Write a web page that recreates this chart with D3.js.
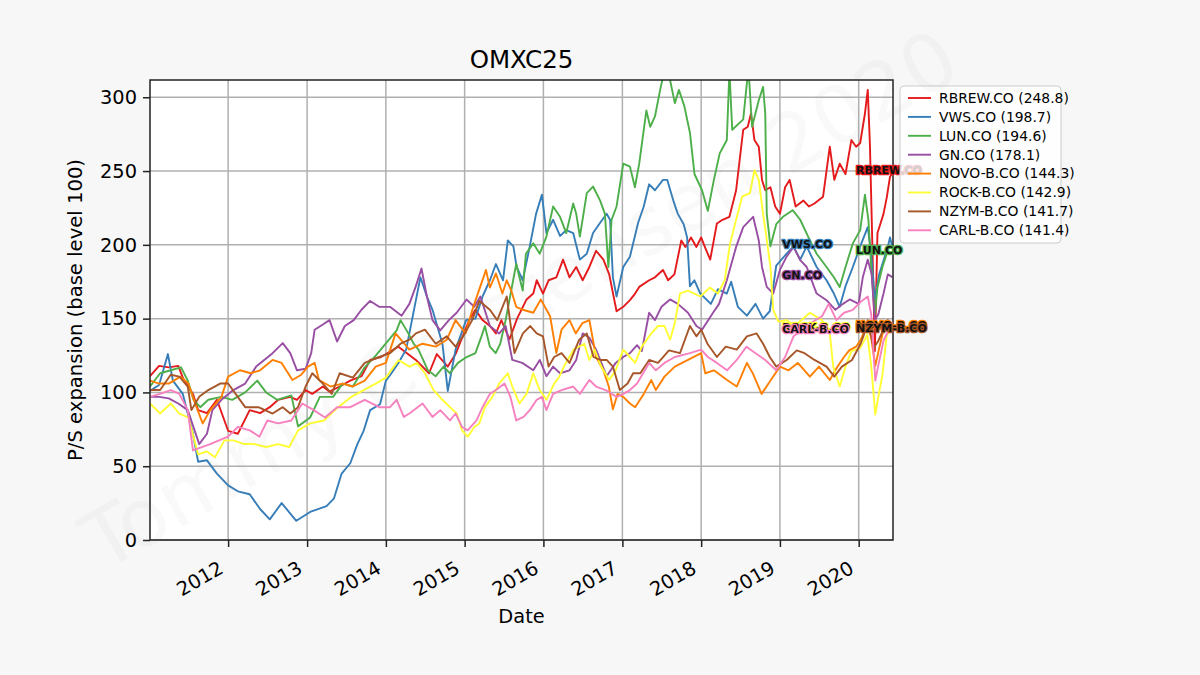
<!DOCTYPE html>
<html>
<head>
<meta charset="utf-8">
<script src="https://cdn.jsdelivr.net/npm/d3@7"></script>
<style>
  body { margin: 0; background: #f7f7f7; }
  svg { display: block; font-family: "DejaVu Sans", sans-serif; }
</style>
</head>
<body>
<div id="chart"></div>
<script>
// series names, in legend order
const names = ["RBREW.CO", "VWS.CO", "LUN.CO", "GN.CO", "NOVO-B.CO", "ROCK-B.CO", "NZYM-B.CO", "CARL-B.CO"];
const colors = ["#e41a1c", "#377eb8", "#4daf4a", "#984ea3", "#ff7f00", "#ffff33", "#a65628", "#f781bf"];
const yTicks = [0, 50, 100, 150, 200, 250, 300];
const xTicks = ["2012", "2013", "2014", "2015", "2016", "2017", "2018", "2019", "2020"];

const rbrew = [["2011-01-04",111],["2011-02-15",118],["2011-04-01",117],["2011-05-15",118],["2011-06-05",110],["2011-07-22",99],["2011-08-15",88],["2011-09-25",86],["2011-11-10",95],["2012-01-01",74],["2012-02-15",72],["2012-04-10",88],["2012-05-28",86],["2012-07-12",90],["2012-08-20",95],["2012-10-15",97],["2012-11-15",95],["2012-12-25",101.6],["2013-01-25",99],["2013-03-15",104],["2013-04-15",100.5],["2013-06-01",104],["2013-07-20",108],["2013-09-10",111],["2013-10-20",122],["2013-12-10",124],["2014-02-28",131],["2014-05-20",122],["2014-07-20",113],["2014-08-25",126],["2014-10-15",117.5],["2014-11-20",126],["2015-01-22",149],["2015-02-20",156],["2015-03-25",149],["2015-04-28",145],["2015-05-26",140],["2015-06-20",149],["2015-07-28",136],["2015-09-01",150],["2015-10-15",163],["2015-11-15",167],["2015-12-01",176],["2015-12-30",167],["2016-01-25",176],["2016-03-01",178],["2016-04-01",190],["2016-05-01",178],["2016-06-01",185],["2016-07-01",176],["2016-08-01",185],["2016-09-01",196],["2016-10-05",190],["2016-11-01",180],["2016-12-05",155],["2017-01-05",158],["2017-02-05",162.5],["2017-03-01",167],["2017-03-20",171.5],["2017-05-05",176],["2017-06-01",178],["2017-07-08",183],["2017-08-01",176],["2017-08-30",180],["2017-10-01",203],["2017-10-20",198.6],["2017-11-15",205],["2017-12-10",198.6],["2018-01-01",205],["2018-01-20",198],["2018-02-12",190],["2018-03-15",214.5],["2018-04-10",217],["2018-05-12",219],["2018-06-12",237],["2018-07-15",278],["2018-08-05",280],["2018-08-20",289],["2018-09-05",271],["2018-09-25",266.5],["2018-10-10",244],["2018-10-25",237],["2018-11-18",239],["2018-12-10",226],["2019-01-01",221],["2019-01-25",239],["2019-02-15",244],["2019-03-15",226],["2019-04-20",230],["2019-05-15",226],["2019-06-10",228],["2019-07-20",232.6],["2019-08-20",266.5],["2019-09-10",244],["2019-10-05",255],["2019-11-01",248],["2019-11-28",271],["2019-12-20",266.5],["2020-01-08",269],["2020-01-30",289],["2020-02-12",305],["2020-02-22",268],["2020-03-01",220],["2020-03-16",128],["2020-03-28",208],["2020-04-10",214],["2020-04-25",221],["2020-05-10",232],["2020-05-25",246],["2020-06-05",248.8]];

const vws = [["2011-01-04",101],["2011-02-15",105],["2011-03-28",126],["2011-04-20",108],["2011-06-05",99],["2011-07-22",72],["2011-08-15",53],["2011-09-25",54],["2011-11-10",45],["2012-01-01",37],["2012-02-15",33],["2012-04-10",31],["2012-05-28",21],["2012-07-12",14],["2012-09-05",25],["2012-11-12",13],["2013-01-15",19],["2013-04-01",23],["2013-05-05",28],["2013-06-10",45],["2013-07-20",52],["2013-08-22",65],["2013-09-20",74],["2013-10-20",88],["2013-12-05",92],["2014-01-01",108],["2014-01-22",112],["2014-02-28",120],["2014-04-05",129],["2014-06-10",178],["2014-07-10",165],["2014-08-05",156],["2014-09-20",133],["2014-10-15",101],["2014-11-20",129],["2015-01-08",149],["2015-02-20",150],["2015-03-25",165],["2015-04-28",176],["2015-05-26",187],["2015-06-28",176],["2015-07-20",203],["2015-08-15",199],["2015-08-30",185],["2015-09-27",176],["2015-10-30",199],["2015-11-28",221],["2015-12-25",234],["2016-01-15",208],["2016-02-15",217],["2016-03-18",206],["2016-04-16",210],["2016-05-18",208],["2016-06-18",190],["2016-07-20",194],["2016-08-18",208],["2016-09-20",215],["2016-10-20",221],["2016-11-05",217],["2016-11-18",178],["2016-12-05",165],["2017-01-05",185],["2017-02-05",192],["2017-03-15",215],["2017-04-10",226],["2017-05-05",241],["2017-06-01",237],["2017-07-08",244],["2017-07-28",244],["2017-08-25",230],["2017-09-15",221],["2017-10-12",214],["2017-10-28",205],["2017-11-10",172],["2017-12-01",176],["2017-12-28",167],["2018-02-15",160],["2018-03-20",170],["2018-04-30",167],["2018-05-20",175],["2018-06-20",158],["2018-08-01",152],["2018-09-10",160],["2018-10-15",150],["2018-11-15",155],["2018-12-15",186],["2019-02-01",194],["2019-03-05",199],["2019-04-05",190],["2019-05-05",199],["2019-06-20",185],["2019-08-05",176],["2019-09-08",167],["2019-10-05",158],["2019-11-01",172],["2019-12-05",185],["2020-01-08",199],["2020-02-12",212],["2020-02-28",194],["2020-03-16",163],["2020-04-05",180],["2020-05-15",198.6],["2020-05-25",205],["2020-06-05",198.7]];

const lun = [["2011-01-04",104],["2011-02-20",113],["2011-04-10",115],["2011-05-28",117],["2011-06-28",108],["2011-07-25",95],["2011-08-25",90],["2011-10-01",95],["2011-12-01",97],["2012-01-20",95],["2012-03-20",100],["2012-05-15",108],["2012-06-25",100],["2012-08-15",95],["2012-10-20",98],["2012-11-20",77],["2013-01-15",83],["2013-03-01",97],["2013-05-01",97],["2013-06-15",106],["2013-08-01",104],["2013-09-25",117],["2013-11-15",125],["2014-02-20",142],["2014-03-10",149],["2014-04-15",140],["2014-05-10",133],["2014-06-01",129],["2014-07-15",115],["2014-08-20",111],["2014-09-25",117.5],["2014-10-25",113],["2014-12-01",120],["2015-01-10",124],["2015-02-20",126.6],["2015-03-20",138],["2015-04-05",145],["2015-04-28",131],["2015-05-25",126.6],["2015-06-15",133],["2015-07-10",149],["2015-08-28",187],["2015-09-27",169],["2015-10-12",194],["2015-11-15",201],["2015-12-15",194],["2016-01-15",205.6],["2016-02-15",226],["2016-03-18",219],["2016-04-16",208],["2016-05-18",228],["2016-06-01",221],["2016-06-18",205.6],["2016-07-20",235],["2016-08-18",239.5],["2016-09-20",230],["2016-10-12",221],["2016-10-28",185],["2016-11-12",217],["2016-12-05",226],["2017-01-05",255],["2017-02-05",253],["2017-02-28",239],["2017-03-20",255],["2017-04-22",291],["2017-05-10",280],["2017-06-01",287],["2017-06-25",305],["2017-07-10",315],["2017-08-01",318],["2017-09-01",296],["2017-09-20",305],["2017-10-15",294],["2017-11-10",276],["2017-12-01",248],["2018-01-05",237],["2018-02-01",223],["2018-03-01",244],["2018-03-28",262],["2018-04-30",271],["2018-05-12",318],["2018-05-25",278],["2018-07-15",285],["2018-08-08",320],["2018-08-25",280],["2018-09-25",298],["2018-10-15",307],["2018-10-25",289],["2018-11-01",221],["2018-11-18",199],["2018-12-15",214],["2019-01-15",219],["2019-03-01",223.5],["2019-04-05",217],["2019-05-20",203],["2019-06-20",194],["2019-08-05",185],["2019-09-08",178],["2019-10-05",171.5],["2019-11-01",185],["2019-12-05",201],["2020-01-08",210],["2020-01-30",234],["2020-02-15",217],["2020-02-28",185],["2020-03-16",153],["2020-03-28",171],["2020-04-20",185],["2020-05-10",194],["2020-06-05",194.6]];

const gn = [["2011-01-04",97],["2011-02-15",97],["2011-04-01",96],["2011-05-15",92.5],["2011-06-28",88],["2011-08-20",65],["2011-09-25",72],["2011-10-20",88],["2011-12-01",95],["2012-01-25",101.6],["2012-03-20",106],["2012-05-10",117.5],["2012-07-25",126.6],["2012-09-10",133.4],["2012-10-15",126.6],["2012-11-15",115],["2012-12-25",116],["2013-01-20",126.6],["2013-02-05",142.5],["2013-03-15",146],["2013-04-15",149],["2013-05-20",134.5],["2013-06-25",145],["2013-08-05",149],["2013-09-10",156],["2013-10-20",162],["2013-12-01",158],["2014-01-20",158],["2014-03-15",152],["2014-04-20",160],["2014-05-20",172],["2014-06-15",184],["2014-07-10",165],["2014-08-05",149],["2014-09-10",142],["2014-10-20",149],["2014-11-25",154],["2015-01-10",163],["2015-02-15",158],["2015-03-15",165],["2015-04-28",145],["2015-06-10",140],["2015-07-10",145],["2015-08-10",122],["2015-09-25",120],["2015-11-15",115],["2015-12-15",122],["2016-01-15",111],["2016-02-15",117.5],["2016-03-18",113],["2016-05-01",115],["2016-06-01",122],["2016-07-01",140],["2016-08-01",137],["2016-09-01",129],["2016-10-20",111],["2016-12-01",120],["2017-01-05",124],["2017-02-05",126.6],["2017-03-10",132],["2017-04-01",128],["2017-05-05",154],["2017-06-01",149],["2017-07-01",158],["2017-08-10",163],["2017-09-15",160],["2017-11-01",154],["2017-12-10",145],["2018-01-05",142.5],["2018-02-25",154],["2018-03-25",160],["2018-04-30",176],["2018-06-12",198.6],["2018-07-15",212],["2018-08-30",219],["2018-09-25",203],["2018-10-10",185],["2018-11-01",171.5],["2018-12-01",167],["2019-01-01",183],["2019-02-01",192],["2019-03-05",198.6],["2019-04-05",189.6],["2019-05-05",185],["2019-06-20",167],["2019-08-05",162.5],["2019-09-15",156],["2019-10-20",160],["2019-11-20",163],["2020-01-01",160],["2020-01-20",178],["2020-02-12",190],["2020-03-01",180],["2020-03-16",149],["2020-04-01",153],["2020-04-25",167],["2020-05-15",180],["2020-06-05",178.1]];

const novo = [["2011-01-04",108],["2011-02-15",106],["2011-04-01",106],["2011-05-25",110.7],["2011-07-01",106],["2011-08-01",92.5],["2011-09-05",79],["2011-10-10",88],["2011-12-01",97],["2012-01-01",110.7],["2012-02-25",115],["2012-04-15",113],["2012-05-28",115],["2012-07-25",122],["2012-09-05",120],["2012-10-25",108.4],["2012-12-05",112],["2013-01-05",117.5],["2013-02-05",120],["2013-02-25",108.4],["2013-04-20",104],["2013-06-15",106],["2013-08-01",104],["2013-09-25",108],["2013-11-15",117.5],["2014-01-01",120],["2014-02-15",140],["2014-04-20",129],["2014-06-20",133],["2014-08-20",131],["2014-10-10",135.7],["2014-11-20",149],["2015-01-05",140],["2015-02-10",158],["2015-04-10",183],["2015-04-28",171],["2015-05-26",180.6],["2015-06-25",167],["2015-07-15",176],["2015-08-05",169],["2015-08-28",158],["2015-09-28",156],["2015-11-15",154],["2015-12-20",163],["2016-02-01",151.6],["2016-03-01",126.6],["2016-03-25",142.5],["2016-05-01",149],["2016-05-30",140],["2016-06-30",147],["2016-08-01",149],["2016-09-01",124],["2016-10-05",115],["2016-10-30",104],["2016-11-18",88.6],["2016-12-10",99],["2017-01-05",97],["2017-02-05",92.5],["2017-03-01",90],["2017-04-10",99],["2017-05-15",108.4],["2017-06-05",101.6],["2017-07-15",110.7],["2017-09-01",117.5],["2017-11-01",122],["2018-01-01",126.6],["2018-01-20",113],["2018-03-01",115],["2018-05-01",108.4],["2018-06-15",104],["2018-08-01",120],["2018-08-28",113],["2018-10-08",99],["2018-11-20",108.4],["2019-01-01",117.5],["2019-02-10",115],["2019-03-25",120],["2019-05-20",110.7],["2019-07-01",117.5],["2019-08-20",108.4],["2019-09-25",117.5],["2019-10-25",124],["2019-11-18",128.5],["2019-12-20",131],["2020-01-08",135],["2020-02-10",146],["2020-02-28",137],["2020-03-18",118],["2020-04-05",130],["2020-05-01",146],["2020-06-05",144.3]];

const rock = [["2011-01-04",92.5],["2011-02-20",85.7],["2011-04-10",92.5],["2011-05-20",85.7],["2011-07-01",83],["2011-08-15",58],["2011-09-25",60],["2011-11-01",56],["2011-12-15",67.5],["2012-01-25",67.5],["2012-03-15",65],["2012-05-01",65],["2012-06-25",63],["2012-08-20",65],["2012-10-10",63],["2012-11-20",74.3],["2013-01-15",79],["2013-03-20",81],["2013-05-25",90],["2013-07-25",97],["2013-09-20",101.6],["2013-11-15",106],["2014-01-01",110],["2014-03-01",122],["2014-04-20",117.5],["2014-05-25",120],["2014-07-01",113],["2014-08-10",101.6],["2014-09-20",95],["2014-10-25",90],["2014-11-25",85.7],["2014-12-20",74.3],["2015-01-15",70],["2015-02-15",76.6],["2015-03-10",79],["2015-04-05",90],["2015-05-10",97],["2015-06-10",106],["2015-07-20",113],["2015-08-10",104],["2015-09-12",92.5],["2015-10-15",99],["2015-11-15",113],["2015-12-15",101.6],["2016-01-15",95],["2016-02-20",106],["2016-03-15",110.7],["2016-04-05",117.5],["2016-05-20",129],["2016-07-08",133],["2016-08-01",122],["2016-08-25",129],["2016-09-25",117.5],["2016-11-01",108.4],["2016-12-01",115],["2017-01-05",129],["2017-02-05",124],["2017-03-01",120],["2017-04-01",131],["2017-05-15",140],["2017-06-15",145],["2017-07-15",145],["2017-08-10",135.7],["2017-09-01",147],["2017-09-25",167],["2017-11-01",169],["2017-12-28",165],["2018-02-10",171],["2018-03-20",167],["2018-04-20",176],["2018-05-15",201],["2018-06-12",217],["2018-07-10",232.6],["2018-08-15",235],["2018-09-05",250.6],["2018-09-25",244],["2018-10-15",221],["2018-10-28",208],["2018-11-18",185],["2018-12-01",156],["2018-12-25",148],["2019-02-01",149],["2019-03-10",145],["2019-05-20",154],["2019-07-15",149],["2019-08-20",140],["2019-09-05",117.5],["2019-10-05",104],["2019-11-01",117.5],["2019-11-28",128],["2020-01-08",130],["2020-02-10",139],["2020-02-28",118],["2020-03-18",85],["2020-04-01",97],["2020-04-20",112],["2020-05-10",139],["2020-06-05",142.9]];

const nzym = [["2011-01-04",101.6],["2011-02-20",101.6],["2011-04-10",112],["2011-05-20",110.7],["2011-06-28",104],["2011-07-15",88],["2011-08-20",97],["2011-10-01",101.6],["2011-11-25",106],["2012-01-01",106],["2012-03-20",90],["2012-05-20",90],["2012-07-25",85.7],["2012-09-10",90],["2012-10-15",85.7],["2012-11-20",90],["2012-12-25",104],["2013-01-25",113],["2013-03-15",106],["2013-04-25",99],["2013-06-01",113],["2013-08-01",110],["2013-09-25",120],["2013-12-01",124],["2014-01-20",126.6],["2014-03-10",133],["2014-04-20",135.7],["2014-05-20",140],["2014-07-01",142.5],["2014-08-20",133],["2014-10-10",138],["2014-11-20",131],["2014-12-25",138],["2015-02-05",149],["2015-03-10",162],["2015-04-28",156],["2015-06-01",149],["2015-07-15",165],["2015-08-20",126.6],["2015-09-28",140],["2015-11-01",145],["2015-12-01",140],["2015-12-30",138],["2016-01-25",117.5],["2016-02-20",124],["2016-03-25",126.6],["2016-05-01",120],["2016-06-15",135.7],["2016-07-20",140],["2016-08-20",124],["2016-09-20",122],["2016-10-20",122],["2016-11-18",117.5],["2016-12-20",101.6],["2017-01-25",106],["2017-02-20",113],["2017-03-25",113],["2017-05-05",122],["2017-06-15",120],["2017-08-05",128.5],["2017-09-25",126.6],["2017-11-10",145],["2017-12-10",138],["2018-01-01",142.5],["2018-01-30",133],["2018-03-15",124],["2018-04-25",131],["2018-06-15",129],["2018-08-01",138],["2018-09-15",140],["2018-10-15",133],["2018-11-15",124],["2018-12-15",117.5],["2019-02-01",122],["2019-03-20",128.5],["2019-04-25",126.6],["2019-06-10",122],["2019-08-05",117.5],["2019-09-10",110.7],["2019-10-15",117.5],["2019-12-01",122],["2020-01-10",133],["2020-01-25",139],["2020-02-12",149],["2020-03-10",130],["2020-04-01",135],["2020-05-15",149],["2020-06-05",141.7]];

const carl = [["2011-01-04",97],["2011-02-20",99],["2011-04-10",101.6],["2011-05-20",99],["2011-06-28",88],["2011-07-22",60.7],["2011-09-01",63],["2011-10-10",65],["2011-11-20",67.5],["2012-01-01",70],["2012-02-15",76.6],["2012-04-10",74.3],["2012-05-25",70],["2012-07-01",81],["2012-08-20",79],["2012-10-20",81],["2012-12-10",92.5],["2013-02-01",88],["2013-03-25",83],["2013-05-20",90],["2013-07-20",90],["2013-09-25",95],["2013-12-01",90],["2014-01-20",90],["2014-02-20",95],["2014-03-25",83.4],["2014-04-20",85.7],["2014-06-20",92.5],["2014-08-05",83.4],["2014-09-10",88],["2014-10-25",81],["2014-11-20",85.7],["2014-12-20",76.6],["2015-01-15",74.3],["2015-02-25",81],["2015-03-25",90],["2015-04-28",99],["2015-05-26",101.6],["2015-07-05",106],["2015-08-01",97],["2015-08-28",81],["2015-10-01",83.4],["2015-10-30",88],["2015-12-01",95],["2015-12-25",97],["2016-01-15",88],["2016-02-15",99],["2016-03-25",101.6],["2016-05-18",104],["2016-06-18",99],["2016-08-01",108.4],["2016-09-01",104],["2016-10-15",101.6],["2016-12-05",97],["2017-01-05",99],["2017-02-05",101.6],["2017-03-10",106],["2017-05-05",120],["2017-06-05",115],["2017-07-15",120],["2017-09-01",124],["2017-11-10",126.6],["2018-01-01",129],["2018-02-01",124],["2018-03-15",120],["2018-05-01",115],["2018-06-15",122],["2018-07-30",131],["2018-09-10",126.6],["2018-10-25",122],["2018-12-15",115],["2019-01-25",124],["2019-03-05",138],["2019-04-15",142.5],["2019-05-25",147],["2019-07-15",151.6],["2019-08-15",160],["2019-09-20",149],["2019-10-25",154],["2019-12-05",156],["2020-01-15",162],["2020-02-12",165],["2020-02-28",153],["2020-03-18",108],["2020-03-30",117],["2020-04-25",135],["2020-05-25",144],["2020-06-05",141.4]];

const seriesData = [rbrew, vws, lun, gn, novo, rock, nzym, carl];
// end labels alternate between two x positions
const labelDates = ["2019-12-20", "2019-01-12"];

const width = 1200;
const height = 675;
const margin = { top: 80, right: 307, bottom: 135, left: 150 };
const parse = d3.timeParse("%Y-%m-%d");

const svg = d3.select("#chart")
  .append("svg")
  .attr("width", width)
  .attr("height", height);

svg.append("rect").attr("width", width).attr("height", height).attr("fill", "#f7f7f7");

const x = d3.scaleTime()
  .domain([parse("2011-01-04"), parse("2020-06-08")])
  .range([margin.left, width - margin.right]);

const y = d3.scaleLinear()
  .domain([0, 311.7])
  .range([height - margin.bottom, margin.top]);

// plot background
svg.append("rect")
  .attr("x", margin.left)
  .attr("y", margin.top)
  .attr("width", x.range()[1] - margin.left)
  .attr("height", y.range()[0] - margin.top)
  .attr("fill", "#fff");

svg.append("clipPath").attr("id", "clip")
  .append("rect")
  .attr("x", margin.left)
  .attr("y", margin.top)
  .attr("width", x.range()[1] - margin.left)
  .attr("height", y.range()[0] - margin.top);

// grid
const xTickDates = xTicks.map(d => parse(d + "-01-01"));
svg.append("g")
  .selectAll("line")
  .data(xTickDates)
  .join("line")
  .attr("x1", d => x(d)).attr("x2", d => x(d))
  .attr("y1", margin.top).attr("y2", y.range()[0])
  .attr("stroke", "#b0b0b0").attr("stroke-width", 1.5);

svg.append("g")
  .selectAll("line")
  .data(yTicks)
  .join("line")
  .attr("x1", margin.left).attr("x2", x.range()[1])
  .attr("y1", d => y(d)).attr("y2", d => y(d))
  .attr("stroke", "#b0b0b0").attr("stroke-width", 1.5);

// lines
const line = d3.line()
  .x(d => x(parse(d[0])))
  .y(d => y(d[1]));

svg.append("g")
  .attr("clip-path", "url(#clip)")
  .selectAll("path")
  .data(seriesData)
  .join("path")
  .attr("d", line)
  .attr("fill", "none")
  .attr("stroke", (d, i) => colors[i])
  .attr("stroke-width", 1.9)
  .attr("stroke-linejoin", "round");

// axes
const xAxis = svg.append("g")
  .attr("transform", `translate(0,${y.range()[0]})`)
  .call(d3.axisBottom(x).tickValues(xTickDates).tickSize(7).tickFormat(d3.timeFormat("%Y")));
xAxis.select(".domain").remove();
xAxis.selectAll("line").attr("stroke", "#222").attr("stroke-width", 1.5);
xAxis.selectAll("text")
  .attr("y", 0).attr("dy", 0)
  .attr("text-anchor", "end")
  .attr("transform", "translate(-4,32) rotate(-30)")
  .style("font-size", "19.4px")
  .style("font-family", "DejaVu Sans")
  .attr("fill", "#000");

const yAxis = svg.append("g")
  .attr("transform", `translate(${margin.left},0)`)
  .call(d3.axisLeft(y).tickValues(yTicks).tickSize(7).tickPadding(6));
yAxis.select(".domain").remove();
yAxis.selectAll("line").attr("stroke", "#222").attr("stroke-width", 1.5);
yAxis.selectAll("text")
  .style("font-size", "19.4px")
  .style("font-family", "DejaVu Sans")
  .attr("fill", "#000");

// spines
svg.append("rect")
  .attr("x", margin.left)
  .attr("y", margin.top)
  .attr("width", x.range()[1] - margin.left)
  .attr("height", y.range()[0] - margin.top)
  .attr("fill", "none")
  .attr("stroke", "#222")
  .attr("stroke-width", 1.5);

// end labels
svg.append("g")
  .selectAll("text")
  .data(seriesData)
  .join("text")
  .attr("x", (d, i) => x(parse(labelDates[i % 2])))
  .attr("y", d => y(d[d.length - 1][1]) - 2)
  .attr("dominant-baseline", "central")
  .style("font-size", "11px")
  .style("font-weight", "bold")
  .attr("fill", "#111")
  .attr("stroke", (d, i) => colors[i])
  .attr("stroke-width", 2.6)
  .attr("paint-order", "stroke")
  .attr("stroke-linejoin", "round")
  .text((d, i) => names[i]);

// titles
svg.append("text")
  .attr("x", (margin.left + x.range()[1]) / 2)
  .attr("y", 68)
  .attr("text-anchor", "middle")
  .style("font-size", "24.5px")
  .text("OMXC25");

svg.append("text")
  .attr("x", (margin.left + x.range()[1]) / 2)
  .attr("y", 623)
  .attr("text-anchor", "middle")
  .style("font-size", "19.4px")
  .text("Date");

svg.append("text")
  .attr("transform", `translate(82,${(margin.top + y.range()[0]) / 2}) rotate(-90)`)
  .attr("text-anchor", "middle")
  .style("font-size", "19.6px")
  .text("P/S expansion (base level 100)");

// legend
const legend = svg.append("g").attr("transform", "translate(900,86)");
legend.append("rect")
  .attr("width", 161).attr("height", 157).attr("rx", 4)
  .attr("fill", "#fff").attr("fill-opacity", 0.8)
  .attr("stroke", "#ccc");
const rows = legend.selectAll("g")
  .data(names)
  .join("g")
  .attr("transform", (d, i) => `translate(0,${12 + i * 18.9})`);
rows.append("line")
  .attr("x1", 8).attr("x2", 31)
  .attr("stroke", (d, i) => colors[i])
  .attr("stroke-width", 1.9);
rows.append("text")
  .attr("x", 39)
  .attr("dy", "0.35em")
  .style("font-size", "13.9px")
  .text((d, i) => `${d} (${d3.format(".1f")(seriesData[i][seriesData[i].length - 1][1])})`);

// watermark
svg.append("text")
  .attr("transform", "translate(520,300) rotate(-30)")
  .attr("text-anchor", "middle")
  .attr("dominant-baseline", "central")
  .style("font-size", "80px")
  .attr("fill", "#808080")
  .attr("fill-opacity", 0.05)
  .text("Tommy Carstensen 2020");
</script>
</body>
</html>
